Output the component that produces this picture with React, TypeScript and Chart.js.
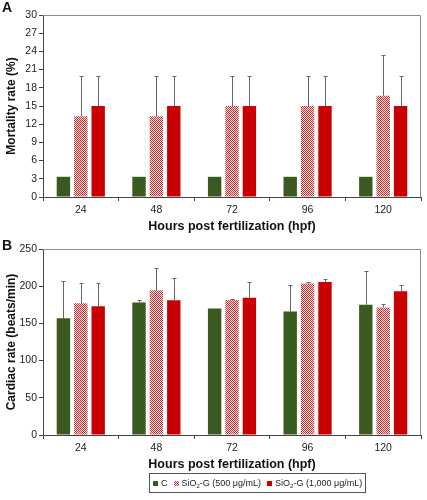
import React, { useEffect, useRef } from "react";
import { Chart, registerables } from "chart.js";
Chart.register(...registerables);

const categories = ["24", "48", "72", "96", "120"];
const seriesNames = ["C", "SiO2-G (500 μg/mL)", "SiO2-G (1,000 μg/mL)"];

// Panel A: mortality rate (%)
const mortC = [3.33, 3.33, 3.33, 3.33, 3.33];
const mortLow = [13.33, 13.33, 15, 15, 16.67];
const mortHigh = [15, 15, 15, 15, 15];
const mortCErr = [0, 0, 0, 0, 0];
const mortLowErr = [6.67, 6.67, 5, 5, 6.67];
const mortHighErr = [5, 5, 5, 5, 5];

// Panel B: cardiac rate (beats/min)
const cardC = [157, 178, 170, 166, 175];
const cardLow = [177, 194.5, 181.5, 203.5, 171.5];
const cardHigh = [173, 181, 184.5, 205.5, 193.3];
const cardCErr = [50, 3.5, 0, 35, 45.5];
const cardLowErr = [27, 29.5, 1.5, 1.5, 4];
const cardHighErr = [31, 29.5, 20.5, 4.5, 8];

const FONT = "'Liberation Sans', Arial, sans-serif";
const GREEN = "#3a5a1f";
const RED = "#c80000";

function makePattern(): CanvasPattern | string {
  const c = document.createElement("canvas");
  c.width = 2;
  c.height = 2;
  const g = c.getContext("2d");
  if (!g) return "#e89090";
  g.fillStyle = "#fae4e4";
  g.fillRect(0, 0, 2, 2);
  g.fillStyle = "#d22a2a";
  g.fillRect(0, 0, 1, 1);
  g.fillRect(1, 1, 1, 1);
  return g.createPattern(c, "repeat") || "#e89090";
}

const errorBarPlugin = {
  id: "errorBars",
  afterDatasetsDraw(chart: any) {
    const ctx = chart.ctx;
    const y = chart.scales.y;
    ctx.save();
    ctx.strokeStyle = "#666";
    ctx.lineWidth = 1;
    chart.data.datasets.forEach((ds: any, i: number) => {
      const meta = chart.getDatasetMeta(i);
      meta.data.forEach((el: any, j: number) => {
        const e = ds.errors[j];
        if (!e) return;
        const top = Math.round(y.getPixelForValue(ds.data[j] + e)) + 0.5;
        const x = Math.round(el.x) + 0.5;
        ctx.beginPath();
        ctx.moveTo(x, el.y);
        ctx.lineTo(x, top);
        ctx.moveTo(x - 2, top);
        ctx.lineTo(x + 2, top);
        ctx.stroke();
      });
    });
    ctx.restore();
  },
};

const framePlugin = {
  id: "frame",
  afterDraw(chart: any) {
    const { left, right, top, bottom } = chart.chartArea;
    const ctx = chart.ctx;
    ctx.save();
    ctx.strokeStyle = "#8c8c8c";
    ctx.lineWidth = 1;
    ctx.beginPath();
    ctx.moveTo(Math.round(left), Math.round(top) + 0.5);
    ctx.lineTo(Math.round(right) - 0.5, Math.round(top) + 0.5);
    ctx.lineTo(Math.round(right) - 0.5, Math.round(bottom));
    ctx.stroke();
    ctx.restore();
  },
};

function buildChart(
  canvas: HTMLCanvasElement,
  values: number[][],
  errors: number[][],
  yMax: number,
  yStep: number,
  yTitle: string,
  topPad: number
) {
  const pattern = makePattern();
  const fills = [GREEN, pattern, RED];
  const borders = [GREEN, "#e07a7a", RED];
  return new Chart(canvas, {
    type: "bar",
    data: {
      labels: categories,
      datasets: values.map((v, i) => ({
        label: seriesNames[i],
        data: v,
        errors: errors[i],
        backgroundColor: fills[i],
        borderColor: borders[i],
        borderWidth: 0,
        categoryPercentage: 0.69,
        barPercentage: 0.77,
      })) as any,
    },
    options: {
      responsive: false,
      animation: false,
      layout: { padding: { left: 0, right: 6, top: topPad, bottom: 0 } },
      plugins: { legend: { display: false }, tooltip: { enabled: false } },
      scales: {
        x: {
          grid: { drawOnChartArea: false, tickLength: 4, color: "#444", offset: true },
          border: { color: "#444" },
          ticks: { color: "#222", font: { family: FONT, size: 10.5 }, padding: 3 },
          title: {
            display: true,
            text: "Hours post fertilization (hpf)",
            color: "#111",
            font: { family: FONT, size: 12.5, weight: "bold" },
            padding: { top: 2, bottom: 2 },
          },
          afterFit: (s: any) => {
            s.height = 39;
          },
        },
        y: {
          min: 0,
          max: yMax,
          grid: { drawOnChartArea: false, tickLength: 4, color: "#444" },
          border: { color: "#444" },
          ticks: { stepSize: yStep, color: "#222", font: { family: FONT, size: 10.5 }, padding: 2 },
          title: {
            display: true,
            text: yTitle,
            color: "#111",
            font: { family: FONT, size: 12, weight: "bold" },
            padding: { top: 4, bottom: 0 },
          },
          afterFit: (s: any) => {
            s.width = 43;
          },
        },
      },
    },
    plugins: [errorBarPlugin, framePlugin],
  } as any);
}

export default function App() {
  const refA = useRef<HTMLCanvasElement>(null);
  const refB = useRef<HTMLCanvasElement>(null);

  useEffect(() => {
    const a = buildChart(
      refA.current!,
      [mortC, mortLow, mortHigh],
      [mortCErr, mortLowErr, mortHighErr],
      30,
      3,
      "Mortality rate (%)",
      15
    );
    const b = buildChart(
      refB.current!,
      [cardC, cardLow, cardHigh],
      [cardCErr, cardLowErr, cardHighErr],
      250,
      50,
      "Cardiac rate (beats/min)",
      13
    );
    return () => {
      a.destroy();
      b.destroy();
    };
  }, []);

  const letter: React.CSSProperties = {
    position: "absolute",
    fontFamily: FONT,
    fontWeight: "bold",
    fontSize: 14,
    lineHeight: "14px",
    color: "#111",
  };
  const sq: React.CSSProperties = {
    width: 5,
    height: 5,
    marginRight: 3,
    flex: "0 0 auto",
  };
  const txt: React.CSSProperties = {
    fontFamily: FONT,
    fontSize: 9,
    lineHeight: "11px",
    color: "#222",
    whiteSpace: "nowrap",
    marginRight: 6,
  };
  const subStyle: React.CSSProperties = { fontSize: 6, verticalAlign: "-2px", lineHeight: 0 };

  return (
    <div style={{ position: "absolute", left: 0, top: 0, width: 427, height: 500, background: "#fff" }}>
      <canvas ref={refA} width={427} height={236} style={{ position: "absolute", left: 0, top: 0 }} />
      <canvas ref={refB} width={427} height={238} style={{ position: "absolute", left: 0, top: 236 }} />
      <div style={{ ...letter, left: 2, top: 0 }}>A</div>
      <div style={{ ...letter, left: 2, top: 238 }}>B</div>
      <div
        style={{
          position: "absolute",
          left: 149,
          top: 473,
          width: 212,
          height: 18,
          border: "1px solid #555",
          display: "flex",
          alignItems: "center",
          paddingLeft: 3,
          boxSizing: "content-box",
        }}
      >
        <div style={{ ...sq, background: GREEN }} />
        <div style={txt}>{seriesNames[0]}</div>
        <div
          style={{
            ...sq,
            background: "repeating-conic-gradient(#d22a2a 0 25%, #fae4e4 0 50%) 0 0 / 2px 2px",
          }}
        />
        <div style={txt}>
          SiO<sub style={subStyle}>2</sub>-G (500 μg/mL)
        </div>
        <div style={{ ...sq, background: RED }} />
        <div style={{ ...txt, marginRight: 0 }}>
          SiO<sub style={subStyle}>2</sub>-G (1,000 μg/mL)
        </div>
      </div>
    </div>
  );
}
